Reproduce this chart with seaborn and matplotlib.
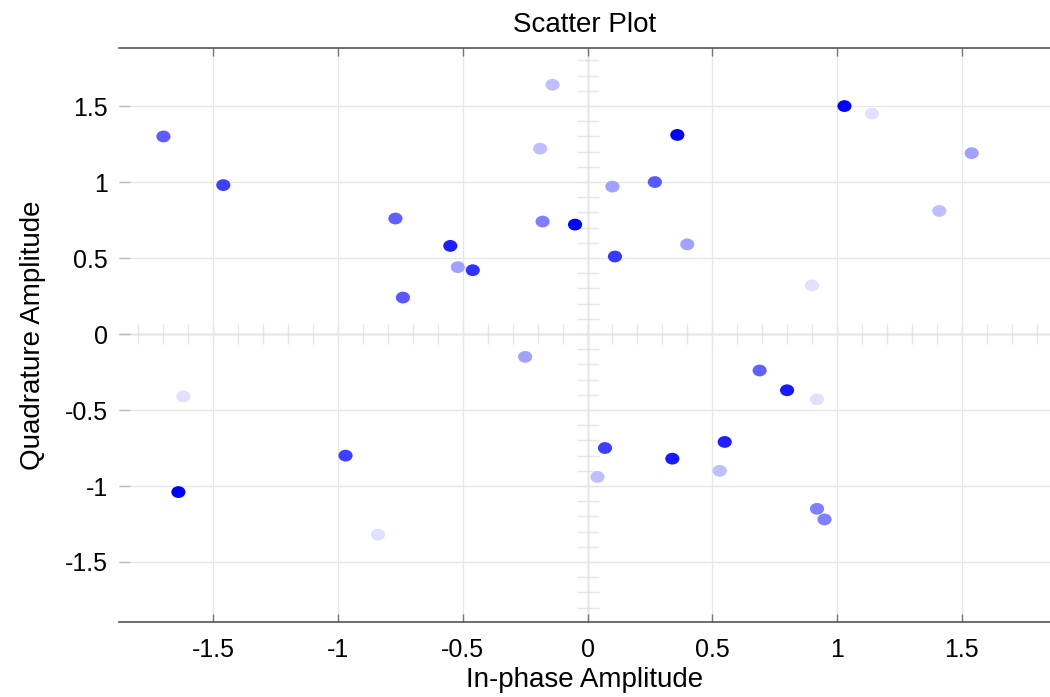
import numpy as np
import pandas as pd
import matplotlib
matplotlib.use("Agg")
import matplotlib.pyplot as plt
from matplotlib.colors import LinearSegmentedColormap
from matplotlib.path import Path
from matplotlib.transforms import Affine2D
import seaborn as sns

# valores
in_phase = [-1.70, -1.46, -0.77, -0.55, -0.52, -0.46, -0.74, -0.14, -0.19, -0.18, -0.05,
            0.36, 0.27, 0.10, 0.40, 0.11, 1.03, 1.14, 1.54, 1.41, 0.90,
            -0.25, -1.62, -0.97, -1.64, -0.84,
            0.69, 0.80, 0.92, 0.07, 0.55, 0.34, 0.53, 0.04, 0.92, 0.95]
quadrature = [1.30, 0.98, 0.76, 0.58, 0.44, 0.42, 0.24, 1.64, 1.22, 0.74, 0.72,
              1.31, 1.00, 0.97, 0.59, 0.51, 1.50, 1.45, 1.19, 0.81, 0.32,
              -0.15, -0.41, -0.80, -1.04, -1.32,
              -0.24, -0.37, -0.43, -0.75, -0.71, -0.82, -0.90, -0.94, -1.15, -1.22]
intensidad = [0.64, 0.75, 0.62, 0.88, 0.37, 0.80, 0.65, 0.25, 0.25, 0.50, 1.00,
              1.00, 0.65, 0.37, 0.37, 0.78, 1.00, 0.12, 0.37, 0.25, 0.12,
              0.37, 0.12, 0.75, 1.00, 0.12,
              0.62, 0.90, 0.12, 0.75, 0.88, 0.90, 0.25, 0.25, 0.50, 0.50]
ticks = [-1.5, -1, -0.5, 0, 0.5, 1, 1.5]
tick_labels = ["-1.5", "-1", "-0.5", "0", "0.5", "1", "1.5"]

df = pd.DataFrame({"x": in_phase, "y": quadrature, "c": intensidad})

sns.set_style("white")
plt.rcParams["font.family"] = ["Liberation Sans", "DejaVu Sans"]
plt.rcParams["text.color"] = "black"
plt.rcParams["axes.labelcolor"] = "black"
plt.rcParams["xtick.labelcolor"] = "black"
plt.rcParams["ytick.labelcolor"] = "black"

fig = plt.figure(figsize=(10.5, 6.97), dpi=100)
ax = fig.add_axes([0.1136, 0.108, 0.8864, 0.8227])

xmin, xmax = -1.877, 1.854
ymin, ymax = -1.893, 1.880

# marcador un poco ovalado
circ = Path.unit_circle()
ovalo = circ.transformed(Affine2D().scale(1.2, 1.0))

cmap = LinearSegmentedColormap.from_list("azul", ["#ffffff", "#0000ff"])
sns.scatterplot(data=df, x="x", y="y", hue="c", palette=cmap, hue_norm=(0, 1),
                legend=False, marker=ovalo, s=104, linewidth=0, ax=ax, zorder=5)

ax.set_xlim(xmin, xmax)
ax.set_ylim(ymin, ymax)
ax.set_xticks(ticks)
ax.set_xticklabels(tick_labels)
ax.set_yticks(ticks)
ax.set_yticklabels(tick_labels)
ax.grid(True, color="#e6e6e6", linewidth=0.9)

for lado in ["left", "right"]:
    ax.spines[lado].set_visible(False)
for lado in ["top", "bottom"]:
    ax.spines[lado].set_color("#555555")
    ax.spines[lado].set_linewidth(1.2)

ax.tick_params(axis="x", direction="in", length=6, width=1, color="#777777",
               top=True, bottom=True, labelsize=18, pad=12)
ax.tick_params(axis="y", direction="in", length=8, width=1, color="#bbbbbb",
               left=True, labelsize=18, pad=8)

# ejes centrales con marcas menores
menores = np.round(np.arange(-1.8, 1.85, 0.1), 1)
sx = ax.secondary_xaxis((0 - ymin) / (ymax - ymin))
sx.spines["bottom"].set_color("#e6e6e6")
sx.set_xticks(menores)
sx.set_xticklabels([])
sx.tick_params(direction="inout", length=14, color="#e6e6e6", width=1)
sy = ax.secondary_yaxis((0 - xmin) / (xmax - xmin))
sy.spines["left"].set_color("#e6e6e6")
sy.set_yticks(menores)
sy.set_yticklabels([])
sy.tick_params(direction="inout", length=16, color="#e6e6e6", width=1)

ax.set_title("Scatter Plot", fontsize=20, pad=12)
ax.set_xlabel("In-phase Amplitude", fontsize=20, labelpad=3)
ax.set_ylabel("Quadrature Amplitude", fontsize=20, labelpad=14)

fig.savefig("out.png", dpi=100)
